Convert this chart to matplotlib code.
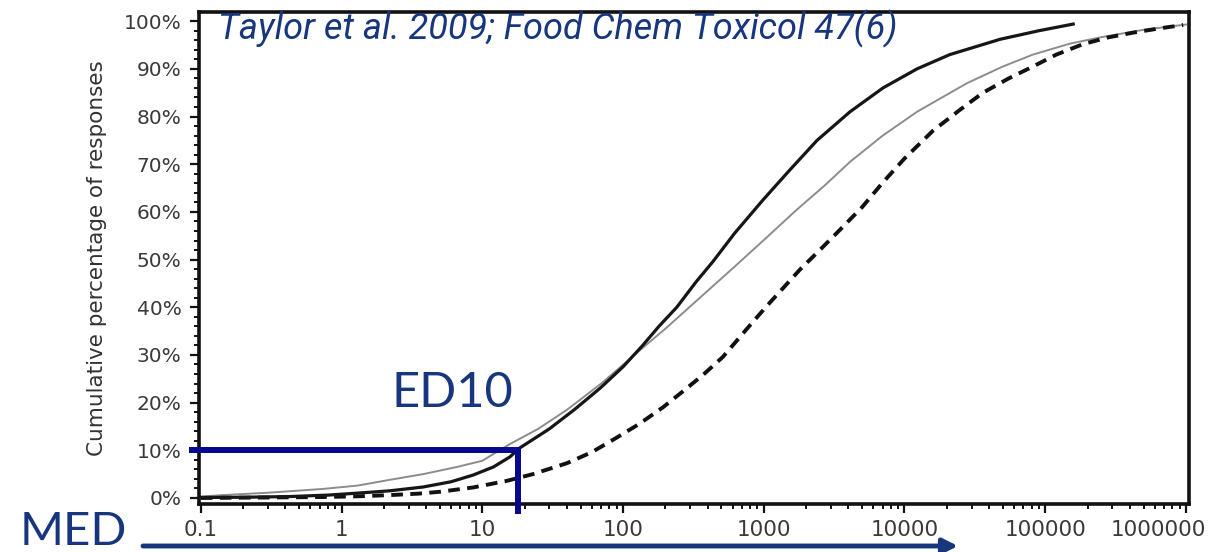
import matplotlib
matplotlib.use("Agg")
import matplotlib.pyplot as plt
from matplotlib.transforms import ScaledTranslation
from matplotlib.ticker import FixedLocator, FuncFormatter, LogLocator, MultipleLocator, NullFormatter

NAVY = "#07078f"
TEXT_BLUE = "#17367e"
TICK_GREY = "#3a3a3a"

# dose (mg) and cumulative % of responses
SOLID_DOSE = [0.1, 0.2, 0.43, 0.8, 1.28, 2.2, 3.8, 6, 8.6, 12, 15.7, 18.5, 30, 45,
              68.6, 100, 138, 180, 241, 330, 436, 620, 987, 1500, 2390, 4100,
              7030, 12270, 21000, 47700, 90000, 158000]
SOLID_PCT = [0.1, 0.15, 0.3, 0.6, 1.0, 1.5, 2.3, 3.4, 4.8, 6.5, 8.6, 10.5, 14.5, 18.5,
             23.0, 27.5, 32.0, 36.0, 40.0, 45.3, 49.6, 55.5, 62.5, 68.5, 75.0, 81.0,
             86.0, 90.0, 93.0, 96.2, 98.0, 99.4]

GREY_DOSE = [0.1, 0.143, 0.3, 0.74, 1.3, 2.2, 3.8, 6.6, 10, 15.7, 25, 40, 70, 132,
             200, 352, 604, 1054, 1722, 2700, 4100, 7000, 12270, 27800, 50000,
             81800, 150000, 245000, 500000, 1000000]
GREY_PCT = [0.3, 0.6, 1.1, 1.9, 2.6, 3.8, 5.0, 6.5, 7.8, 11.3, 14.5, 18.5, 24.0, 31.0,
            35.5, 42.0, 48.2, 54.7, 60.5, 65.5, 70.5, 76.0, 81.0, 87.0, 90.5,
            93.0, 95.3, 96.6, 98.2, 99.3]

DASH_DOSE = [0.1, 0.3, 0.74, 1.3, 2.2, 3.5, 5, 8.6, 15, 22.9, 40, 60, 85, 130, 192,
             270, 370, 513, 750, 1054, 1400, 1807, 2500, 3310, 5000, 7030, 10000,
             15900, 25000, 36100, 55000, 81800, 120000, 186000, 280000, 421000,
             650000, 955000]
DASH_PCT = [0.0, 0.1, 0.2, 0.35, 0.6, 0.9, 1.3, 2.2, 3.6, 5.0, 7.3, 9.6, 12.2, 15.5, 19.0,
            22.5, 25.8, 29.6, 35.3, 40.3, 44.3, 47.9, 52.0, 55.6, 61.0, 66.2, 71.2,
            77.0, 81.5, 85.0, 88.0, 90.5, 93.0, 95.2, 96.6, 97.6,
            98.5, 99.2]

ED10_DOSE = 18
ED10_PCT = 10

X_TICKS = [0.1, 1, 10, 100, 1000, 10000, 100000, 1000000]
X_TICK_LABELS = ["0.1", "1", "10", "100", "1000", "10000", "100000", "1000000"]
Y_TICKS = list(range(0, 101, 10))


fig = plt.figure(figsize=(12.12, 5.52), dpi=100)
ax = fig.add_axes([0.164, 0.087, 0.817, 0.891])

ax.plot(DASH_DOSE, DASH_PCT, color="#111111", lw=2.8, ls=(0, (3.0, 1.9)), zorder=3)
ax.plot(GREY_DOSE, GREY_PCT, color="#8c8c8c", lw=1.4, zorder=2)
ax.plot(SOLID_DOSE, SOLID_PCT, color="#161616", lw=2.3, zorder=4)

# ED10 marker lines
ax.plot([0.086, ED10_DOSE], [ED10_PCT, ED10_PCT], color=NAVY, lw=4.3,
        solid_capstyle="projecting", clip_on=False, zorder=5)
ax.plot([ED10_DOSE, ED10_DOSE], [ED10_PCT, -3.4], color=NAVY, lw=4.3,
        solid_capstyle="butt", clip_on=False, zorder=5)

ax.set_xscale("log")
ax.set_xlim(0.0968, 1.05e6)
ax.set_ylim(-1.26, 101.9)

ax.xaxis.set_major_locator(FixedLocator(X_TICKS))
ax.set_xticklabels(X_TICK_LABELS)
ax.xaxis.set_minor_locator(LogLocator(base=10, subs=range(2, 10)))
ax.xaxis.set_minor_formatter(NullFormatter())
ax.yaxis.set_major_locator(FixedLocator(Y_TICKS))
ax.yaxis.set_major_formatter(FuncFormatter(lambda v, _: f"{v:.0f}%"))
ax.yaxis.set_minor_locator(MultipleLocator(2))

for s in ax.spines.values():
    s.set_linewidth(2.6)
    s.set_color("#111111")
ax.tick_params(which="major", length=6.5, width=1.6, color="#111111")
ax.tick_params(which="minor", length=3.5, width=1.4, color="#111111")
ax.tick_params(axis="x", labelsize=15.5, labelcolor=TICK_GREY, pad=5)
ax.tick_params(axis="y", labelsize=14.5, labelcolor=TICK_GREY, pad=6)

# the last x label sits pulled in from the right edge
last = ax.get_xticklabels()[-1]
last.set_transform(last.get_transform() + ScaledTranslation(-0.28, 0, fig.dpi_scale_trans))

ax.set_ylabel("Cumulative percentage of responses", fontsize=15.5, color="#333333",
              labelpad=12)

ax.text(0.019, 0.945, "Taylor et al. 2009; Food Chem Toxicol 47(6)",
        transform=ax.transAxes, fontsize=26, style="italic", color=TEXT_BLUE,
        family=["Roboto", "DejaVu Sans"], va="baseline", ha="left")

fig.text(0.373, 0.263, "ED10", fontsize=35, color=TEXT_BLUE, family=["Lato", "DejaVu Sans"],
         ha="center", va="baseline")
fig.text(0.0165, 0.0127, "MED", fontsize=34, color=TEXT_BLUE, family=["Lato", "DejaVu Sans"],
         ha="left", va="baseline")

ax.annotate("", xy=(958, 6), xytext=(143, 6), xycoords="figure pixels",
            textcoords="figure pixels",
            arrowprops=dict(arrowstyle="-|>", lw=3.5, color=TEXT_BLUE,
                            mutation_scale=22, shrinkA=0, shrinkB=0))

fig.savefig("out.png", dpi=100)
